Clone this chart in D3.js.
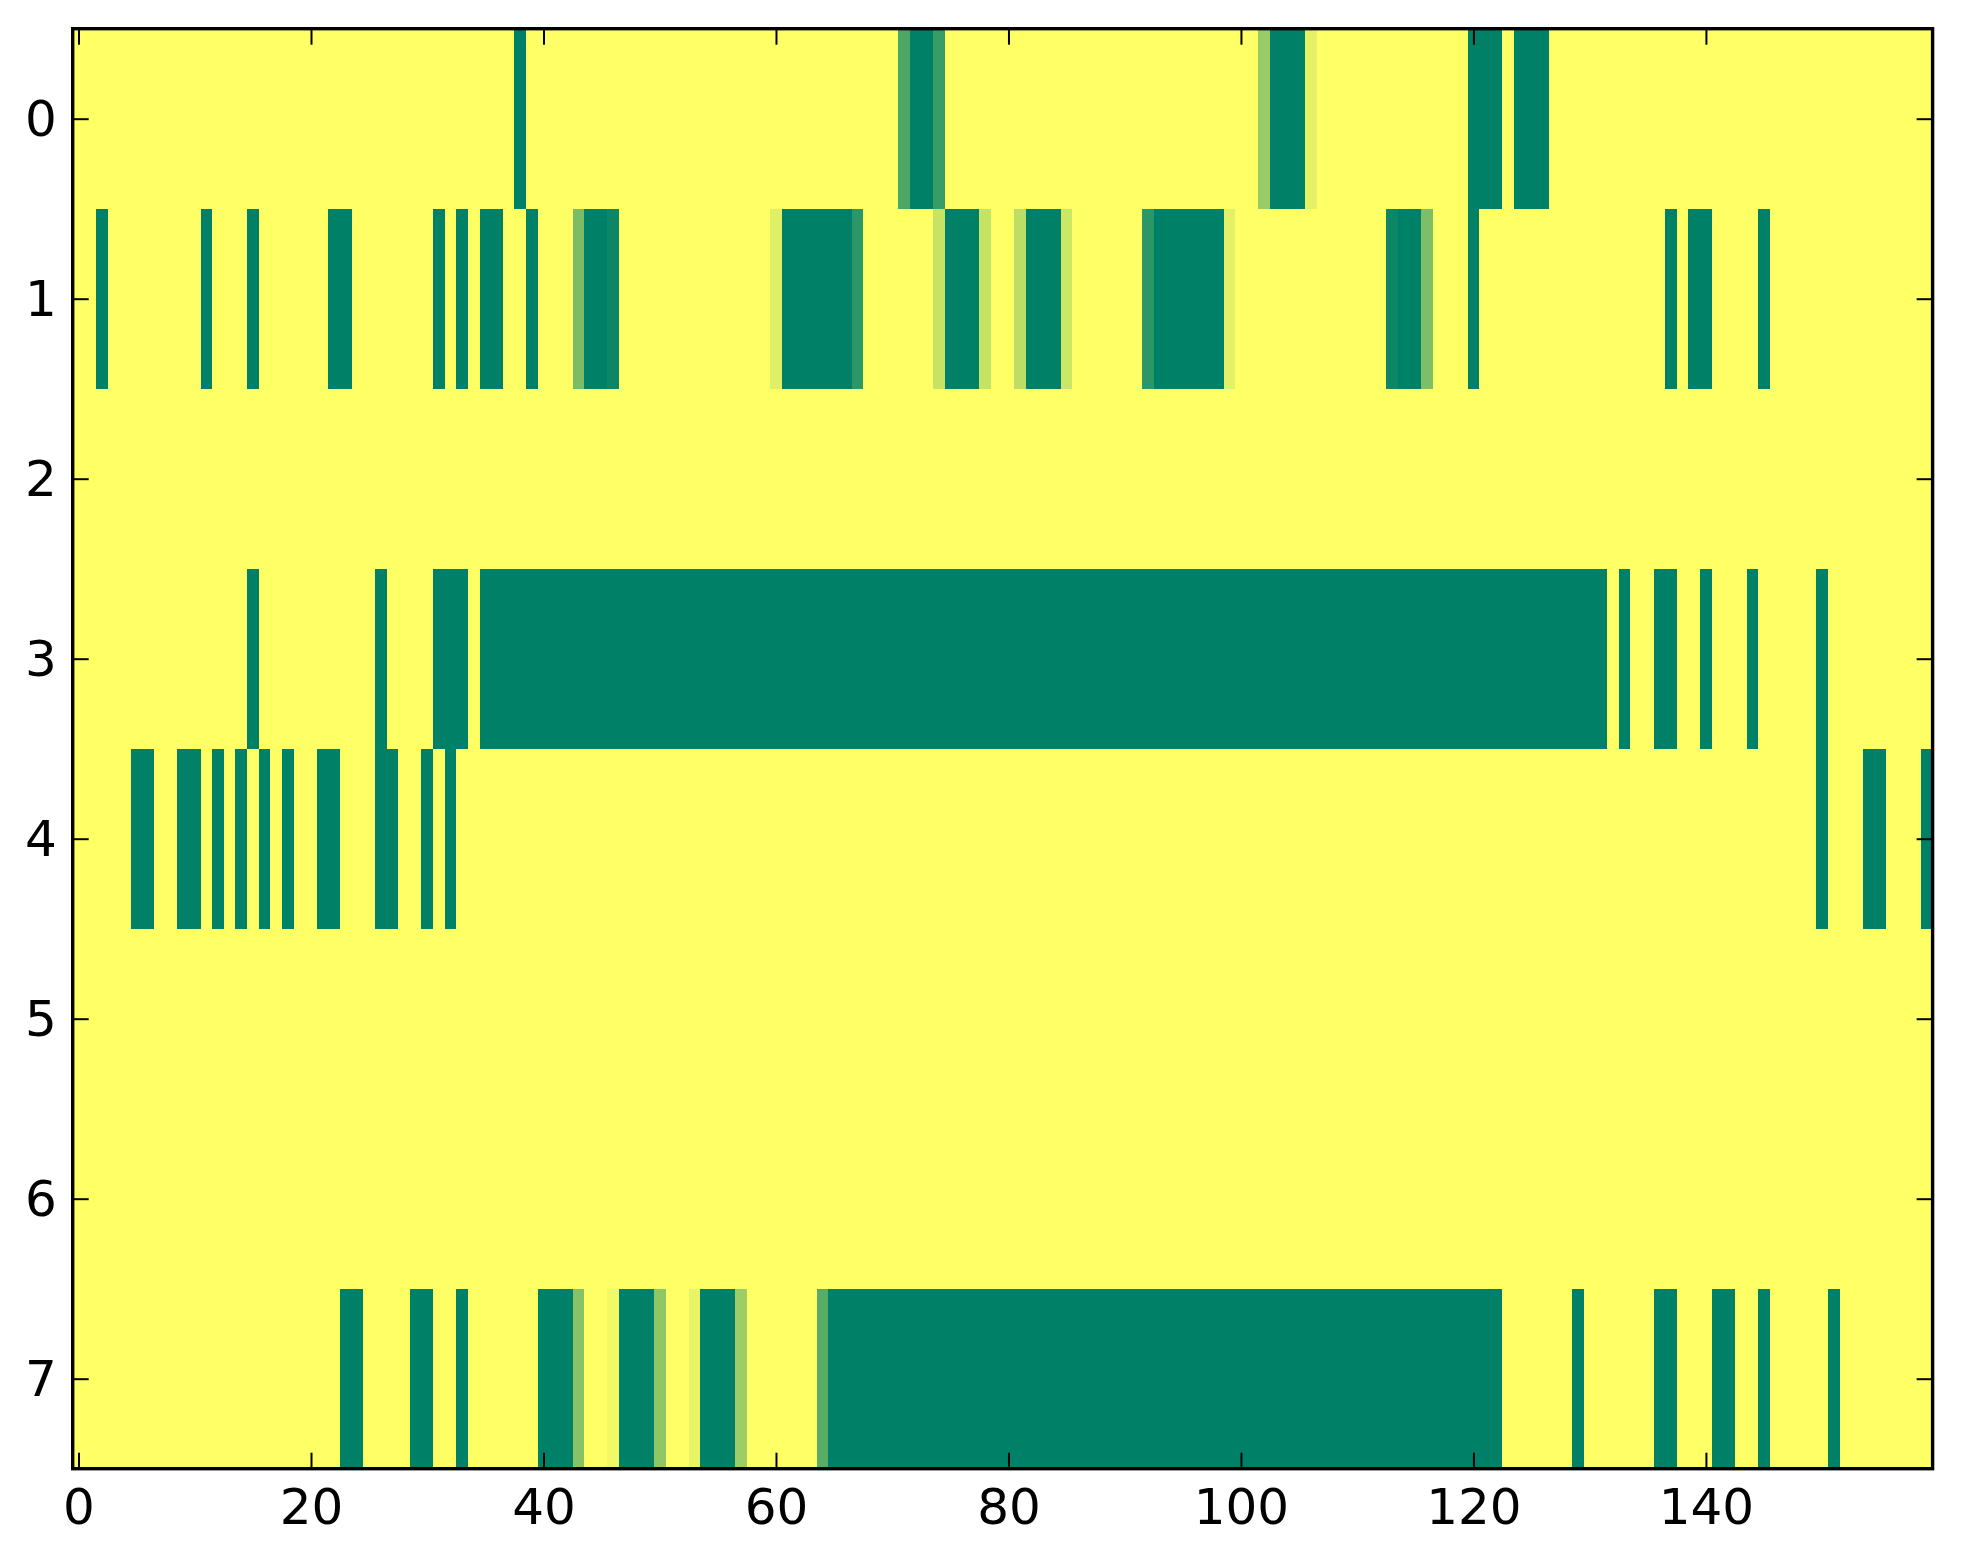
<!DOCTYPE html>
<html>
<head>
<meta charset="utf-8">
<script src="https://cdn.jsdelivr.net/npm/d3@7"></script>
<style>
    body { margin: 0; background: #fff; }
    text { font-family: "DejaVu Sans", sans-serif; }
</style>
</head>
<body>
<svg id="chart"></svg>
<script>

// one array per image row, 160 columns each (0 = green, 1 = yellow)
let row0 = [
    1,1,1,1,1,1,1,1,1,1,1,1,1,1,1,1,1,1,1,1,
    1,1,1,1,1,1,1,1,1,1,1,1,1,1,1,1,1,1,0,1,
    1,1,1,1,1,1,1,1,1,1,1,1,1,1,1,1,1,1,1,1,
    1,1,1,1,1,1,1,1,1,1,1,0.3,0,0,0.22,1,1,1,1,1,
    1,1,1,1,1,1,1,1,1,1,1,1,1,1,1,1,1,1,1,1,
    1,1,0.6,0,0,0,0.9,1,1,1,1,1,1,1,1,1,1,1,1,1,
    0,0,0,1,0,0,0,1,1,1,1,1,1,1,1,1,1,1,1,1,
    1,1,1,1,1,1,1,1,1,1,1,1,1,1,1,1,1,1,1,1
];
let row1 = [
    1,1,0,1,1,1,1,1,1,1,1,0,1,1,1,0,1,1,1,1,
    1,1,0,0,1,1,1,1,1,1,1,0,1,0,1,0,0,1,1,0,
    1,1,1,0.48,0,0,0.05,1,1,1,1,1,1,1,1,1,1,1,1,1,
    0.88,0,0,0,0,0,0,0.17,1,1,1,1,1,1,0.78,0,0,0,0.78,1,
    1,0.74,0,0,0,0.8,1,1,1,1,1,1,0.17,0,0,0,0,0,0,0.89,
    1,1,1,1,1,1,1,1,1,1,1,1,1,0.05,0,0,0.49,1,1,1,
    0,1,1,1,1,1,1,1,1,1,1,1,1,1,1,1,1,0,1,0,
    0,1,1,1,1,0,1,1,1,1,1,1,1,1,1,1,1,1,1,1
];
let row2 = [
    1,1,1,1,1,1,1,1,1,1,1,1,1,1,1,1,1,1,1,1,
    1,1,1,1,1,1,1,1,1,1,1,1,1,1,1,1,1,1,1,1,
    1,1,1,1,1,1,1,1,1,1,1,1,1,1,1,1,1,1,1,1,
    1,1,1,1,1,1,1,1,1,1,1,1,1,1,1,1,1,1,1,1,
    1,1,1,1,1,1,1,1,1,1,1,1,1,1,1,1,1,1,1,1,
    1,1,1,1,1,1,1,1,1,1,1,1,1,1,1,1,1,1,1,1,
    1,1,1,1,1,1,1,1,1,1,1,1,1,1,1,1,1,1,1,1,
    1,1,1,1,1,1,1,1,1,1,1,1,1,1,1,1,1,1,1,1
];
let row3 = [
    1,1,1,1,1,1,1,1,1,1,1,1,1,1,1,0,1,1,1,1,
    1,1,1,1,1,1,0,1,1,1,1,0,0,0,1,0,0,0,0,0,
    0,0,0,0,0,0,0,0,0,0,0,0,0,0,0,0,0,0,0,0,
    0,0,0,0,0,0,0,0,0,0,0,0,0,0,0,0,0,0,0,0,
    0,0,0,0,0,0,0,0,0,0,0,0,0,0,0,0,0,0,0,0,
    0,0,0,0,0,0,0,0,0,0,0,0,0,0,0,0,0,0,0,0,
    0,0,0,0,0,0,0,0,0,0,0,0,1,0,1,1,0,0,1,1,
    0,1,1,1,0,1,1,1,1,1,0,1,1,1,1,1,1,1,1,1
];
let row4 = [
    1,1,1,1,1,0,0,1,1,0,0,1,0,1,0,1,0,1,0,1,
    1,0,0,1,1,1,0,0,1,1,0,1,0,1,1,1,1,1,1,1,
    1,1,1,1,1,1,1,1,1,1,1,1,1,1,1,1,1,1,1,1,
    1,1,1,1,1,1,1,1,1,1,1,1,1,1,1,1,1,1,1,1,
    1,1,1,1,1,1,1,1,1,1,1,1,1,1,1,1,1,1,1,1,
    1,1,1,1,1,1,1,1,1,1,1,1,1,1,1,1,1,1,1,1,
    1,1,1,1,1,1,1,1,1,1,1,1,1,1,1,1,1,1,1,1,
    1,1,1,1,1,1,1,1,1,1,0,1,1,1,0,0,1,1,1,0
];
let row5 = [
    1,1,1,1,1,1,1,1,1,1,1,1,1,1,1,1,1,1,1,1,
    1,1,1,1,1,1,1,1,1,1,1,1,1,1,1,1,1,1,1,1,
    1,1,1,1,1,1,1,1,1,1,1,1,1,1,1,1,1,1,1,1,
    1,1,1,1,1,1,1,1,1,1,1,1,1,1,1,1,1,1,1,1,
    1,1,1,1,1,1,1,1,1,1,1,1,1,1,1,1,1,1,1,1,
    1,1,1,1,1,1,1,1,1,1,1,1,1,1,1,1,1,1,1,1,
    1,1,1,1,1,1,1,1,1,1,1,1,1,1,1,1,1,1,1,1,
    1,1,1,1,1,1,1,1,1,1,1,1,1,1,1,1,1,1,1,1
];
let row6 = [
    1,1,1,1,1,1,1,1,1,1,1,1,1,1,1,1,1,1,1,1,
    1,1,1,1,1,1,1,1,1,1,1,1,1,1,1,1,1,1,1,1,
    1,1,1,1,1,1,1,1,1,1,1,1,1,1,1,1,1,1,1,1,
    1,1,1,1,1,1,1,1,1,1,1,1,1,1,1,1,1,1,1,1,
    1,1,1,1,1,1,1,1,1,1,1,1,1,1,1,1,1,1,1,1,
    1,1,1,1,1,1,1,1,1,1,1,1,1,1,1,1,1,1,1,1,
    1,1,1,1,1,1,1,1,1,1,1,1,1,1,1,1,1,1,1,1,
    1,1,1,1,1,1,1,1,1,1,1,1,1,1,1,1,1,1,1,1
];
let row7 = [
    1,1,1,1,1,1,1,1,1,1,1,1,1,1,1,1,1,1,1,1,
    1,1,1,0,0,1,1,1,1,0,0,1,1,0,1,1,1,1,1,1,
    0,0,0,0.53,1,1,0.95,0,0,0,0.56,1,1,0.91,0,0,0,0.61,1,1,
    1,1,1,1,0.35,0,0,0,0,0,0,0,0,0,0,0,0,0,0,0,
    0,0,0,0,0,0,0,0,0,0,0,0,0,0,0,0,0,0,0,0,
    0,0,0,0,0,0,0,0,0,0,0,0,0,0,0,0,0,0,0,0,
    0,0,0,1,1,1,1,1,1,0,1,1,1,1,1,1,0,0,1,1,
    1,0,0,1,1,0,1,1,1,1,1,0,1,1,1,1,1,1,1,1
];

let rows = [row0, row1, row2, row3, row4, row5, row6, row7];
let xTicks = [0, 20, 40, 60, 80, 100, 120, 140];
let yTicks = [0, 1, 2, 3, 4, 5, 6, 7];

// figure settings
let width = 1963;
let height = 1564;
let plot = { left: 72.7, right: 1932.6, top: 28.7, bottom: 1468.7 };
let fontSize = 50;
let tickLen = 16;

let svg = d3.select('#chart').attr('width', width).attr('height', height);

let x = d3.scaleLinear().domain([-0.5, row0.length - 0.5]).range([plot.left, plot.right]);
let y = d3.scaleLinear().domain([-0.5, rows.length - 0.5]).range([plot.top, plot.bottom]);

// matplotlib "summer" colormap: green -> yellow
let color = d3.scaleLinear().domain([0, 1])
    .range(['rgb(0,128,102)', 'rgb(255,255,102)'])
    .interpolate(d3.interpolateRgb);

// flatten into cells
let cells = [];
rows.forEach(function (r, i) {
    r.forEach(function (v, j) {
        cells.push({ row: i, col: j, value: v });
    });
});

svg.append('g')
    .attr('shape-rendering', 'crispEdges')
    .selectAll('rect')
    .data(cells)
    .enter()
    .append('rect')
    .attr('x', d => x(d.col - 0.5))
    .attr('y', d => y(d.row - 0.5))
    .attr('width', d => x(d.col + 0.5) - x(d.col - 0.5) + 0.6)
    .attr('height', d => y(d.row + 0.5) - y(d.row - 0.5) + 0.6)
    .style('fill', d => color(d.value));

// axes, ticks pointing inward on all four sides
function styleAxis(g) {
    g.select('.domain').remove();
    g.selectAll('.tick line').attr('stroke', '#000').attr('stroke-width', 2);
    g.selectAll('.tick text')
        .attr('fill', '#000')
        .style('font-size', fontSize + 'px')
        .style('font-family', '"DejaVu Sans", sans-serif');
}

svg.append('g')
    .attr('transform', 'translate(0,' + plot.bottom + ')')
    .call(d3.axisBottom(x).tickValues(xTicks).tickSize(-tickLen).tickPadding(0).tickFormat(d3.format('d')))
    .call(styleAxis)
    .selectAll('.tick text')
    .attr('y', 55)
    .attr('dy', 0);

svg.append('g')
    .attr('transform', 'translate(0,' + plot.top + ')')
    .call(d3.axisTop(x).tickValues(xTicks).tickSize(-tickLen).tickFormat(''))
    .call(styleAxis);

svg.append('g')
    .attr('transform', 'translate(' + plot.left + ',0)')
    .call(d3.axisLeft(y).tickValues(yTicks).tickSize(-tickLen).tickFormat(d3.format('d')))
    .call(styleAxis)
    .selectAll('.tick text')
    .attr('x', -16)
    .attr('dy', 0)
    .attr('y', 17);

svg.append('g')
    .attr('transform', 'translate(' + plot.right + ',0)')
    .call(d3.axisRight(y).tickValues(yTicks).tickSize(-tickLen).tickFormat(''))
    .call(styleAxis);

// frame
svg.append('rect')
    .attr('x', plot.left)
    .attr('y', plot.top)
    .attr('width', plot.right - plot.left)
    .attr('height', plot.bottom - plot.top)
    .attr('fill', 'none')
    .attr('stroke', '#000')
    .attr('stroke-width', 3.4);

</script>
</body>
</html>
